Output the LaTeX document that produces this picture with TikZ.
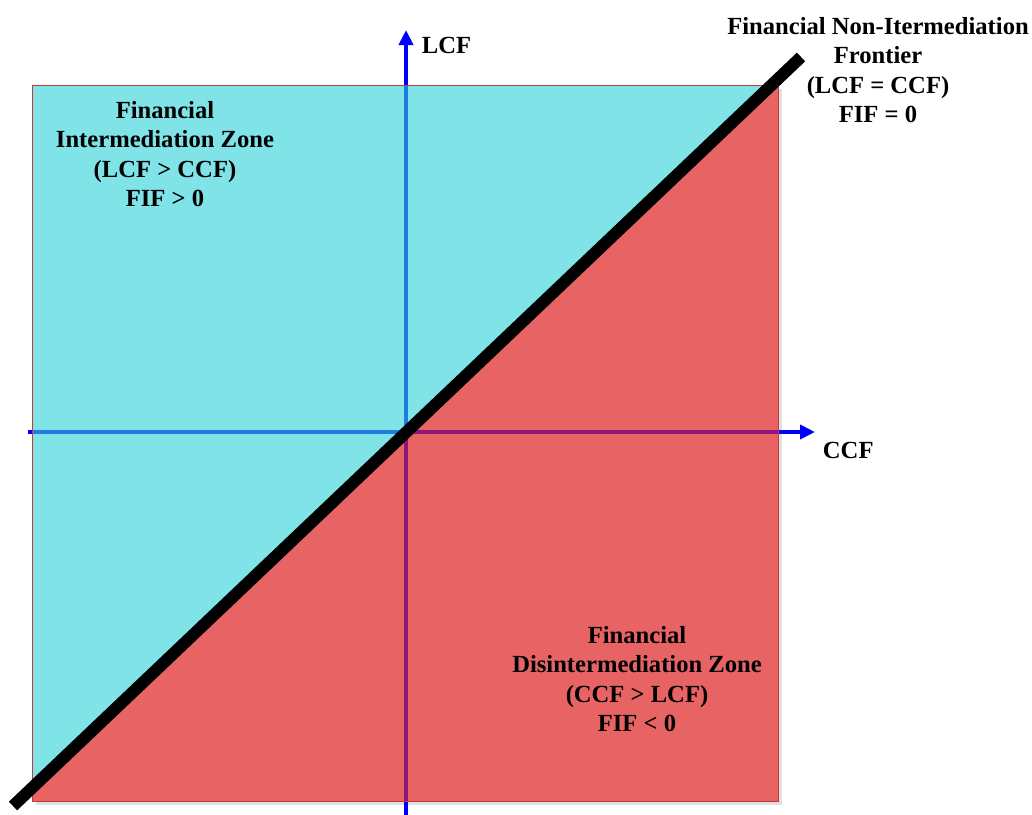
\documentclass[tikz,border=0pt]{standalone}
\usepackage{fontspec}
\setmainfont{Liberation Serif}
\usetikzlibrary{arrows.meta}
\definecolor{zonecyan}{RGB}{127,227,232}
\definecolor{zonered}{RGB}{232,100,100}
\definecolor{axisblue}{RGB}{0,0,255}
\definecolor{axiscyan}{RGB}{30,125,225}
\definecolor{axispurple}{RGB}{140,22,122}
\definecolor{edgered}{RGB}{190,60,60}

\begin{document}
\begin{tikzpicture}[x=0.025cm, y=-0.025cm,
    axis/.style={line width=4*0.025cm},
    axistip/.style={-{Triangle[length=15*0.025cm, width=14*0.025cm]}},
    zonelabel/.style={align=center, font=\fontsize{17.5}{20.8}\selectfont\bfseries}]
        \useasboundingbox (0,0) rectangle (1032,815);

        % Corners of the square and the origin
        \coordinate (sw) at (32,801);
        \coordinate (se) at (778,801);
        \coordinate (ne) at (778,85);
        \coordinate (nw) at (32,85);
        \coordinate (o)  at (406,432);

        % Shadow
        \fill[black!12] (36,805) rectangle (782,89);

        % Zones
        \fill[zonered]  (sw) rectangle (ne);
        \fill[zonecyan] (nw) -- (ne) -- (32,788) -- cycle;

        % Axes outside the square
        \draw[axis, axisblue, axistip] (406,85) -- (406,30);
        \draw[axis, axisblue] (406,815) -- (406,801);
        \draw[axis, axisblue, axistip] (778,432) -- (815,432);
        \draw[axis, axisblue] (28,432) -- (32,432);

        % Axes inside the square
        \draw[axis, axiscyan] (nw -| o) -- (o) -- (nw |- o);
        \draw[axis, axispurple] (sw -| o) -- (o) -- (se |- o);

        % Border
        \draw[edgered, line width=0.6pt] (sw) rectangle (ne);

        % Frontier
        \coordinate (fa) at (13,806);
        \coordinate (fb) at (801,57);
        \draw[line width=12*0.025cm] (fa) -- (fb);

        % Axis labels
        \node[anchor=west, font=\fontsize{17.5}{20.8}\selectfont\bfseries] (lcf) at (417,45) {LCF};
        \node[anchor=west, font=\fontsize{17.5}{20.8}\selectfont\bfseries] (ccf) at (818,450) {CCF};

        % Zone labels
        \node[zonelabel] (fnif) at (878,70) {Financial Non-Itermediation\\Frontier\\(LCF = CCF)\\FIF = 0};
        \node[zonelabel] (fiz)  at (165,154) {Financial\\Intermediation Zone\\(LCF > CCF)\\FIF > 0};
        \node[zonelabel] (fdz)  at (637,679) {Financial\\Disintermediation Zone\\(CCF > LCF)\\FIF < 0};
    \end{tikzpicture}
\end{document}
